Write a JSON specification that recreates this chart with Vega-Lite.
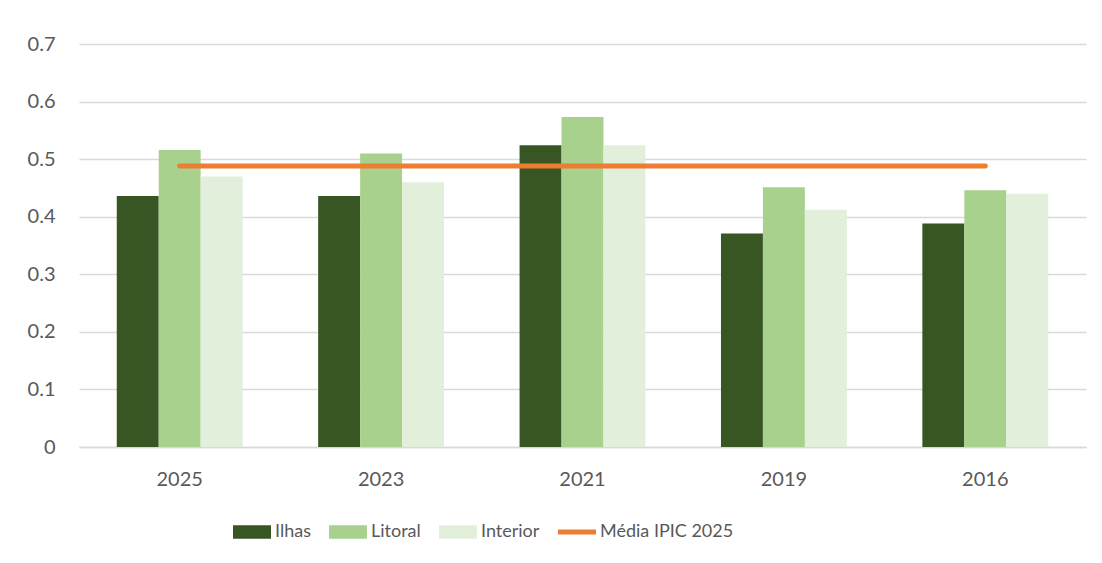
{
  "$schema": "https://vega.github.io/schema/vega-lite/v6.json",
  "width": 1007,
  "height": 403,
  "autosize": "none",
  "padding": {"left": 79, "top": 44, "right": 16, "bottom": 116},
  "background": "white",
  "config": {
    "font": "Lato",
    "view": {"stroke": null},
    "axis": {"labelFont": "Lato", "labelColor": "#595959", "labelFontSize": 20}
  },
  "layer": [
    {
      "data": {"values": [
        {"year": "2025", "region": "Ilhas", "value": 0.436},
        {"year": "2025", "region": "Litoral", "value": 0.516},
        {"year": "2025", "region": "Interior", "value": 0.470},
        {"year": "2023", "region": "Ilhas", "value": 0.436},
        {"year": "2023", "region": "Litoral", "value": 0.510},
        {"year": "2023", "region": "Interior", "value": 0.460},
        {"year": "2021", "region": "Ilhas", "value": 0.524},
        {"year": "2021", "region": "Litoral", "value": 0.573},
        {"year": "2021", "region": "Interior", "value": 0.524},
        {"year": "2019", "region": "Ilhas", "value": 0.371},
        {"year": "2019", "region": "Litoral", "value": 0.451},
        {"year": "2019", "region": "Interior", "value": 0.412},
        {"year": "2016", "region": "Ilhas", "value": 0.388},
        {"year": "2016", "region": "Litoral", "value": 0.446},
        {"year": "2016", "region": "Interior", "value": 0.440}
      ]},
      "mark": {"type": "bar"},
      "encoding": {
        "x": {
          "field": "year", "type": "nominal",
          "sort": ["2025", "2023", "2021", "2019", "2016"],
          "scale": {"paddingInner": 0.375, "paddingOuter": 0.1875},
          "axis": {"title": null, "labelAngle": 0, "ticks": false, "domain": true, "domainColor": "#D9D9D9", "domainWidth": 1.5, "labelPadding": 22}
        },
        "xOffset": {
          "field": "region", "type": "nominal",
          "sort": ["Ilhas", "Litoral", "Interior"],
          "scale": {"paddingInner": 0, "paddingOuter": 0}
        },
        "y": {
          "field": "value", "type": "quantitative",
          "scale": {"domain": [0, 0.7], "nice": false},
          "axis": {"title": null, "values": [0, 0.1, 0.2, 0.3, 0.4, 0.5, 0.6, 0.7], "format": ".1~f", "ticks": false, "domain": false, "gridColor": "#D9D9D9", "gridWidth": 1.5, "labelPadding": 24}
        },
        "color": {
          "field": "region", "type": "nominal",
          "scale": {
            "domain": ["Ilhas", "Litoral", "Interior", "Média IPIC 2025"],
            "range": ["#375623", "#A9D18E", "#E2EFDA", "#ED7D31"]
          },
          "legend": {
            "title": null,
            "orient": "none",
            "direction": "horizontal",
            "legendX": 154,
            "legendY": 469,
            "symbolSize": 1444,
            "symbolType": "M-1,-0.35H1V0.35H-1Z",
            "symbolStrokeWidth": 0,
            "symbolOpacity": 1,
            "labelFont": "Lato",
            "labelFontSize": 18,
            "labelColor": "#595959",
            "labelOffset": 4,
            "columnPadding": 18,
            "encode": {
              "symbols": {
                "update": {
                  "shape": {"signal": "datum.value === 'Média IPIC 2025' ? 'M-1,-0.13H1V0.13H-1Z' : 'M-1,-0.35H1V0.35H-1Z'"}
                }
              }
            }
          }
        }
      }
    },
    {
      "data": {"values": [
        {"year": "2025", "value": 0.488},
        {"year": "2023", "value": 0.488},
        {"year": "2021", "value": 0.488},
        {"year": "2019", "value": 0.488},
        {"year": "2016", "value": 0.488}
      ]},
      "mark": {"type": "line", "color": "#ED7D31", "strokeWidth": 5, "strokeCap": "round"},
      "encoding": {
        "x": {"field": "year", "type": "nominal", "sort": ["2025", "2023", "2021", "2019", "2016"]},
        "y": {"field": "value", "type": "quantitative"}
      }
    }
  ]
}
